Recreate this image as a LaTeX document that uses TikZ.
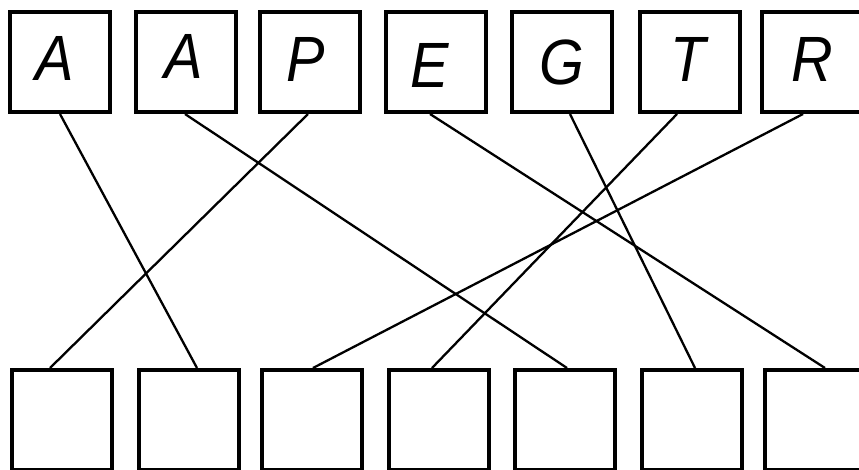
\documentclass[tikz,border=0pt]{standalone}
\usepackage{fontspec}
\setmainfont{Liberation Sans}
\newfontfamily\letterfont[FakeStretch=0.9]{Liberation Sans}
\begin{document}
\begin{tikzpicture}[x=1pt,y=-1pt,
  box/.style={draw=black,line width=4pt,minimum width=100pt,minimum height=100pt,inner sep=0pt,fill=white},
  letter/.style={inner sep=0pt,font=\letterfont\itshape\fontsize{64}{64}\selectfont},
  conn/.style={line width=2.3pt}]
\useasboundingbox[fill=white] (0,0) rectangle (859,469);
% connectors (drawn first)
\node[box] (t1) at (60,62) {};
\node[box] (t2) at (186,62) {};
\node[box] (t3) at (309.5,62) {};
\node[box] (t4) at (436,62) {};
\node[box] (t5) at (562,62) {};
\node[box] (t6) at (689.5,62) {};
\node[box] (t7) at (812,62) {};
\node[box] (b1) at (62,420) {};
\node[box] (b2) at (188.5,420) {};
\node[box] (b3) at (312,420) {};
\node[box] (b4) at (439,420) {};
\node[box] (b5) at (565,420) {};
\node[box] (b6) at (691.5,420) {};
\node[box] (b7) at (815,420) {};
\draw[conn] (t1.south) -- ([xshift=8.5pt]b2.north);
\draw[conn] ([xshift=-1pt]t2.south) -- ([xshift=2pt]b5.north);
\draw[conn] ([xshift=-1.5pt]t3.south) -- ([xshift=-12pt]b1.north);
\draw[conn] ([xshift=-6pt]t4.south) -- ([xshift=10pt]b7.north);
\draw[conn] ([xshift=8pt]t5.south) -- ([xshift=3.5pt]b6.north);
\draw[conn] ([xshift=-12.5pt]t6.south) -- ([xshift=-7pt]b4.north);
\draw[conn] ([xshift=-9pt]t7.south) -- ([xshift=1pt]b3.north);
\node[letter] (l1) at (55,58.5) {A};
\node[letter] (l2) at (184,56.5) {A};
\node[letter] (l3) at (306,59.5) {P};
\node[letter] (l4) at (430,65) {E};
\node[letter] (l5) at (562,62.5) {G};
\node[letter] (l6) at (688,59.5) {T};
\node[letter] (l7) at (812,59.5) {R};
\end{tikzpicture}
\end{document}
